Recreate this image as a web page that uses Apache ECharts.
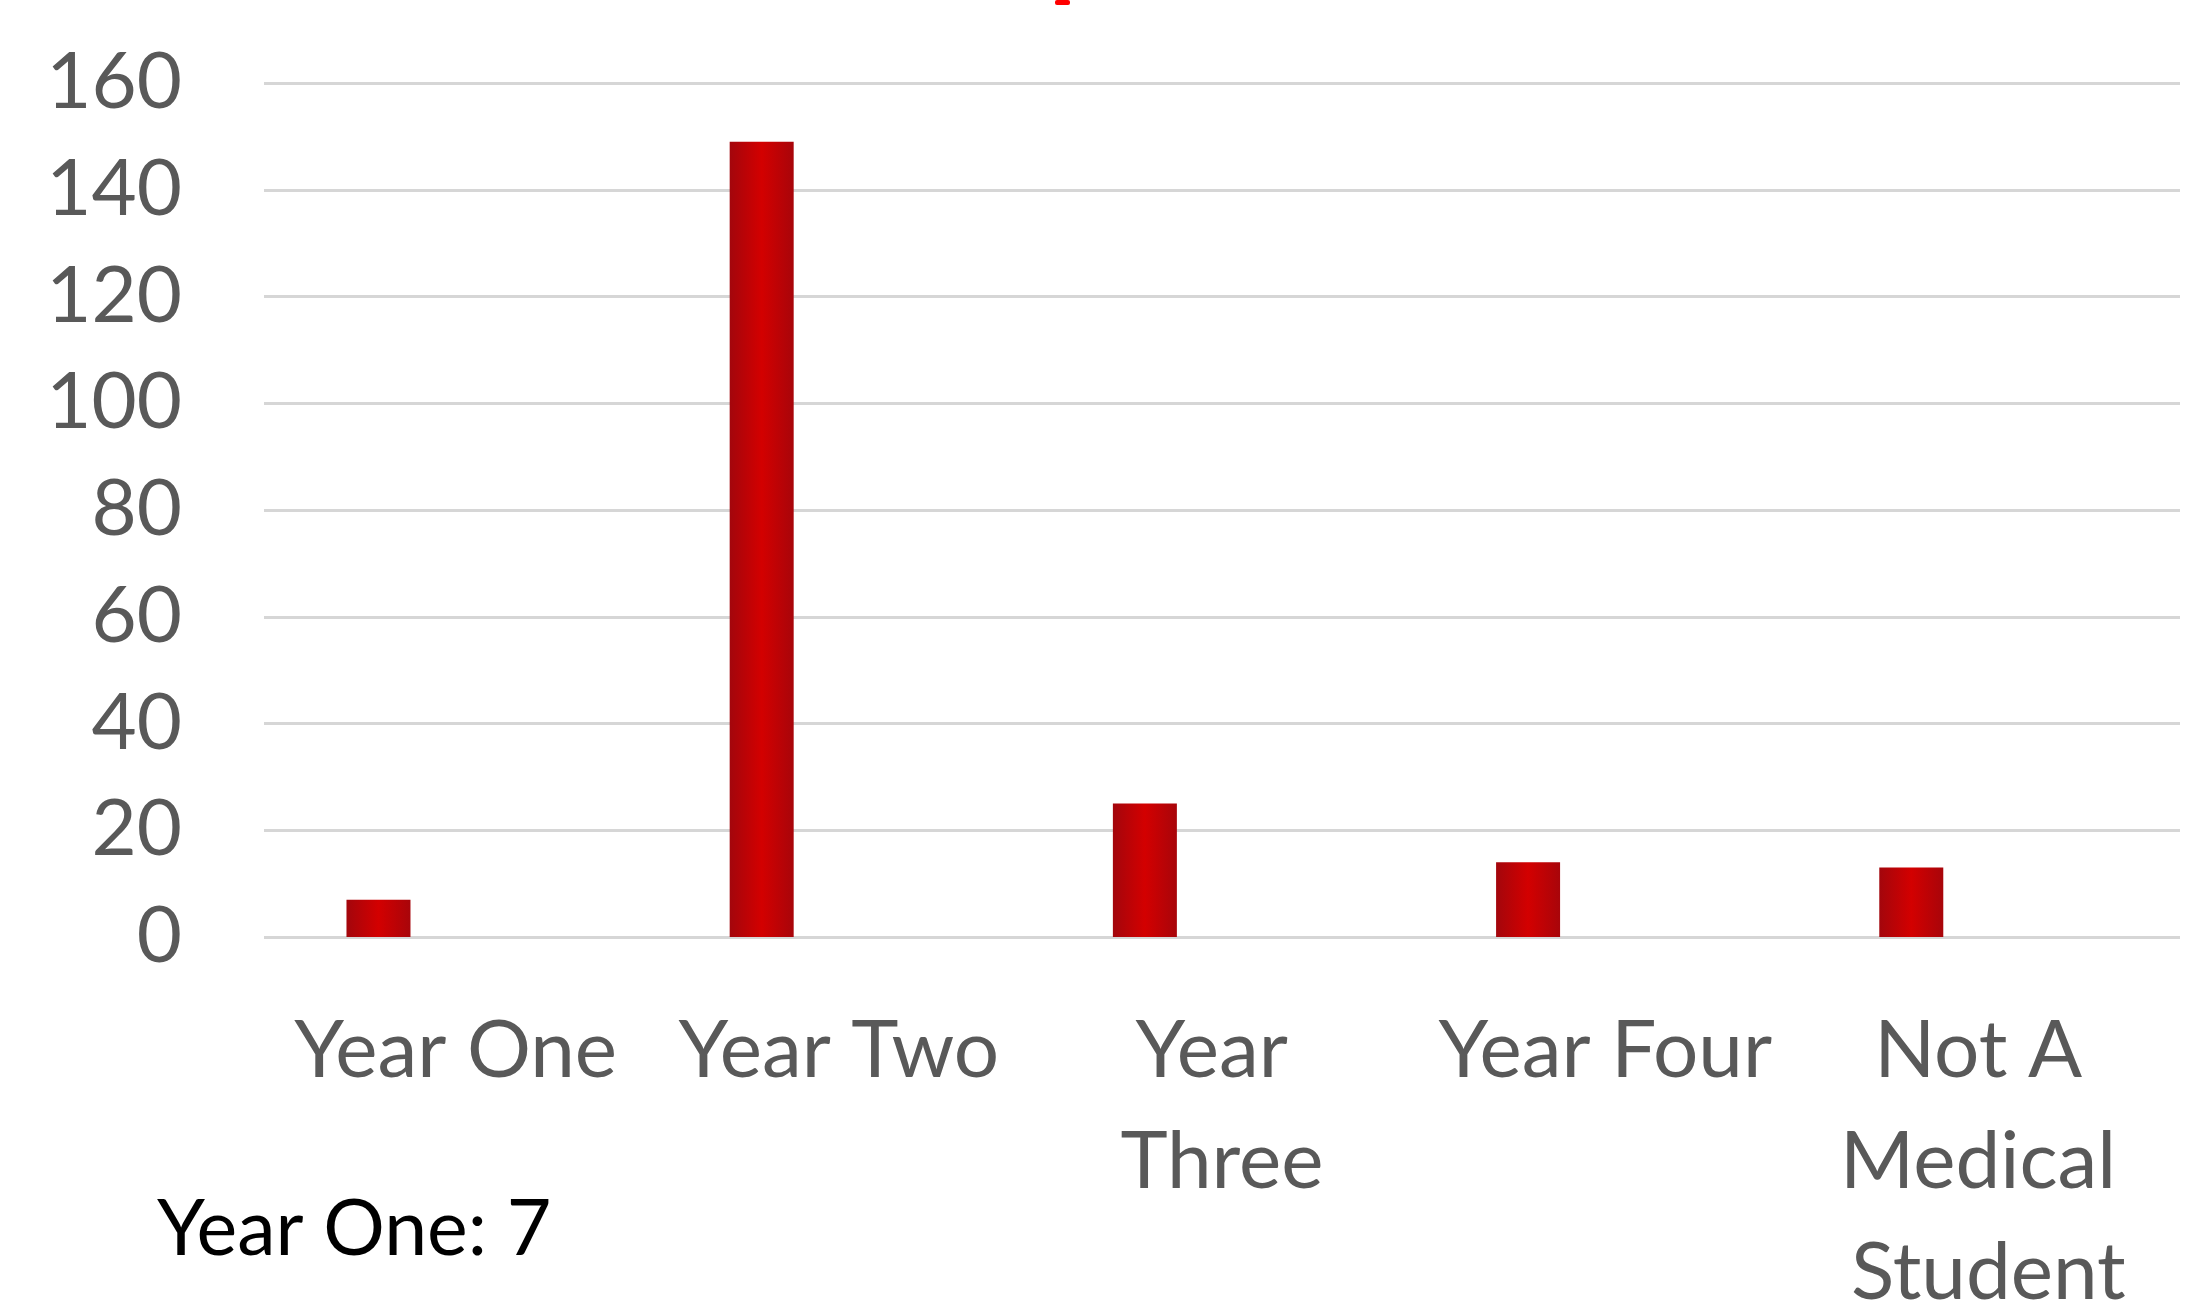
<!DOCTYPE html>
<html>
<head>
<meta charset="utf-8">
<script src="https://cdn.jsdelivr.net/npm/echarts@6/dist/echarts.min.js"></script>
<style>
  html, body { margin: 0; padding: 0; background: #ffffff; }
  #chart { width: 2197px; height: 1301px; }
</style>
</head>
<body>
<div id="chart"></div>
<script>
const categories = ['Year One', 'Year Two', 'Year Three', 'Year Four', 'Not A Medical Student'];
const studentCounts = [7, 149, 25, 14, 13];
const yTicks = { min: 0, max: 160, interval: 20 };
const noteText = 'Year One: 7';

const chart = echarts.init(document.getElementById('chart'), null, { renderer: 'canvas' });
const labelColor = '#595959';
const fontFamily = 'Lato, "Open Sans", sans-serif';

chart.setOption({
  animation: false,
  backgroundColor: '#ffffff',
  grid: { left: 264, right: 17, top: 83, bottom: 1301 - 937, containLabel: false, outerBoundsMode: 'none' },
  xAxis: {
    type: 'category',
    data: categories,
    axisLine: { show: false },
    axisTick: { show: false },
    axisLabel: {
      color: labelColor,
      fontFamily: fontFamily,
      fontSize: 80,
      lineHeight: 111,
      margin: 59,
      width: 372,
      overflow: 'break',
      interval: 0
    }
  },
  yAxis: {
    type: 'value',
    min: yTicks.min,
    max: yTicks.max,
    interval: yTicks.interval,
    axisLine: { show: false },
    axisTick: { show: false },
    axisLabel: {
      color: labelColor,
      fontFamily: fontFamily,
      fontSize: 78,
      margin: 82
    },
    splitLine: { lineStyle: { color: '#d6d6d6', width: 3 } }
  },
  series: [
    {
      type: 'bar',
      name: 'Students',
      data: studentCounts,
      barWidth: 64,
      barGap: '141%',
      itemStyle: {
        color: new echarts.graphic.LinearGradient(0, 0, 1, 0, [
          { offset: 0, color: '#a3060c' },
          { offset: 0.5, color: '#d30000' },
          { offset: 1, color: '#a8050a' }
        ])
      }
    },
    {
      type: 'bar',
      name: 'spacer',
      data: [],
      barWidth: 64,
      silent: true
    }
  ],
  graphic: [
    {
      type: 'text',
      left: 157,
      top: 1192,
      style: {
        text: noteText,
        fill: '#000000',
        font: '77px Lato, "Open Sans", sans-serif'
      }
    },
    {
      type: 'rect',
      left: 1055,
      top: 0,
      shape: { width: 15, height: 5, r: 2 },
      style: { fill: '#ff0000' }
    }
  ]
});
</script>
</body>
</html>
